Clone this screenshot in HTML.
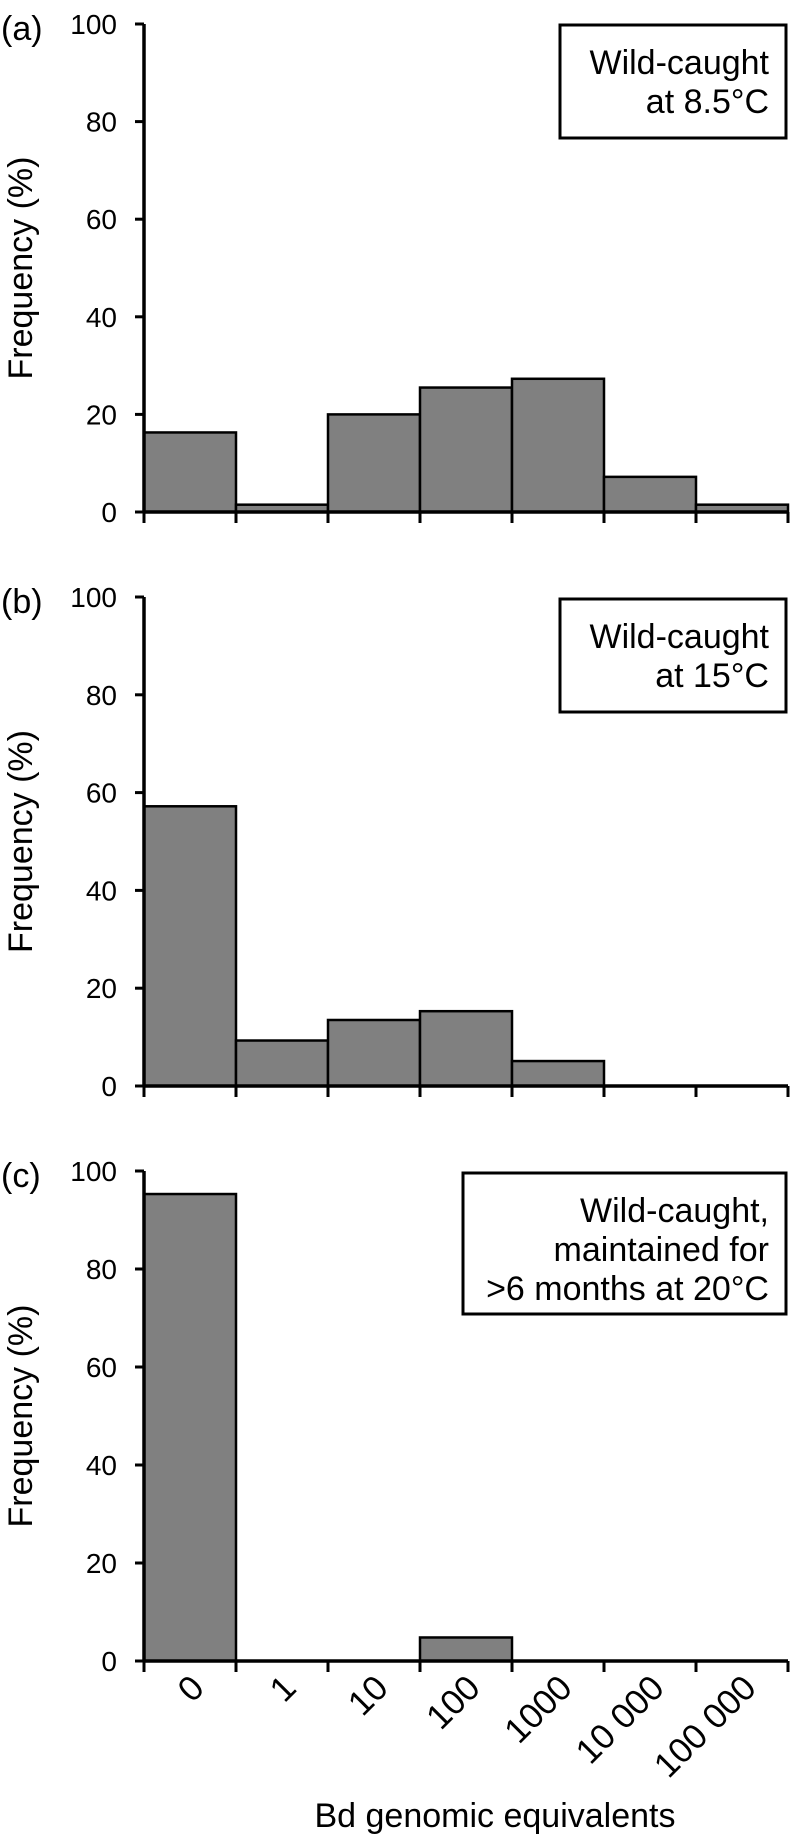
<!DOCTYPE html>
<html><head><meta charset="utf-8"><style>
body{margin:0;background:#fff}
svg{display:block;font-family:"Liberation Sans",Arial,sans-serif}
</style></head><body>
<svg id="chart" width="791" height="1839" viewBox="0 0 791 1839" xmlns="http://www.w3.org/2000/svg"></svg>
<script>
const categories = ["0","1","10","100","1000","10 000","100 000"];
const seriesA = [16.3, 1.5, 20, 25.5, 27.3, 7.2, 1.5];
const seriesB = [57.2, 9.3, 13.5, 15.3, 5.1, 0, 0];
const seriesC = [95.3, 0, 0, 4.8, 0, 0, 0];
const yTicks = [0, 20, 40, 60, 80, 100];
const panelLetters = ["(a)","(b)","(c)"];
const legendA = ["Wild-caught","at 8.5°C"];
const legendB = ["Wild-caught","at 15°C"];
const legendC = ["Wild-caught,","maintained for",">6 months at 20°C"];

const NS="http://www.w3.org/2000/svg";
const svg=document.getElementById('chart');
const X0=144, X1=788, nb=categories.length, bw=(X1-X0)/nb;
function xAt(i){return X0+i*bw;}
function mk(tag,attrs,parent){const e=document.createElementNS(NS,tag);for(const k in attrs)e.setAttribute(k,attrs[k]);(parent||svg).appendChild(e);return e;}

const panels=[
 {data:seriesA,top:24,bottom:512,legend:legendA,box:[560,25,786,138]},
 {data:seriesB,top:597,bottom:1086,legend:legendB,box:[560,599,786,712]},
 {data:seriesC,top:1171,bottom:1661,legend:legendC,box:[463,1173,786,1314]}
];
panels.forEach((p,pi)=>{
  const g=mk('g',{});
  
  
  const y=v=>p.bottom-(v/100)*(p.bottom-p.top);
  p.data.forEach((v,i)=>{
    if(v<=0)return;
    const r=mk('rect',{x:xAt(i),y:y(v),width:bw,height:p.bottom-y(v),fill:'#808080',stroke:'#000','stroke-width':2.5},g);
    
    
  });
  mk('line',{x1:X0,y1:p.top,x2:X0,y2:p.bottom+1.5,stroke:'#000','stroke-width':3.5},g);
  mk('line',{x1:X0,y1:p.bottom,x2:X1,y2:p.bottom,stroke:'#000','stroke-width':3.5},g);
  yTicks.forEach(t=>{
    mk('line',{x1:X0-9,y1:y(t),x2:X0,y2:y(t),stroke:'#000','stroke-width':3},g);
    const tx=mk('text',{x:117,y:y(t)+10,'font-size':28,'text-anchor':'end'},g);
    tx.textContent=t;
    
    
  });
  for(let i=0;i<=nb;i++)mk('line',{x1:xAt(i),y1:p.bottom,x2:xAt(i),y2:p.bottom+11,stroke:'#000','stroke-width':3},g);
  const lt=mk('text',{x:1,y:p.top+16,'font-size':34},g);
  lt.textContent=panelLetters[pi];
  
  
  const cy=(p.top+p.bottom)/2;
  const yt=mk('text',{x:32,y:cy,'font-size':34,'text-anchor':'middle',transform:'rotate(-90 32 '+cy+')'},g);
  yt.textContent='Frequency (%)';
  
  
  const b=p.box;
  const lg=mk('g',{},g);
  
  
  mk('rect',{x:b[0],y:b[1],width:b[2]-b[0],height:b[3]-b[1],fill:'#fff',stroke:'#000','stroke-width':3},lg);
  p.legend.forEach((s,k)=>{
    const t=mk('text',{x:b[2]-17,y:b[1]+49+k*39,'font-size':34,'text-anchor':'end'},lg);
    t.textContent=s;
  });
});
categories.forEach((c,i)=>{
  const cx=xAt(i)+bw/2+16, cy=1690;
  const t=mk('text',{x:cx,y:cy,'font-size':35,'text-anchor':'end',transform:'rotate(-45 '+cx+' '+cy+')'});
  t.textContent=c;
  
  
});
const xt=mk('text',{x:495,y:1827,'font-size':34,'text-anchor':'middle'});
xt.textContent='Bd genomic equivalents';


</script>
</body></html>
